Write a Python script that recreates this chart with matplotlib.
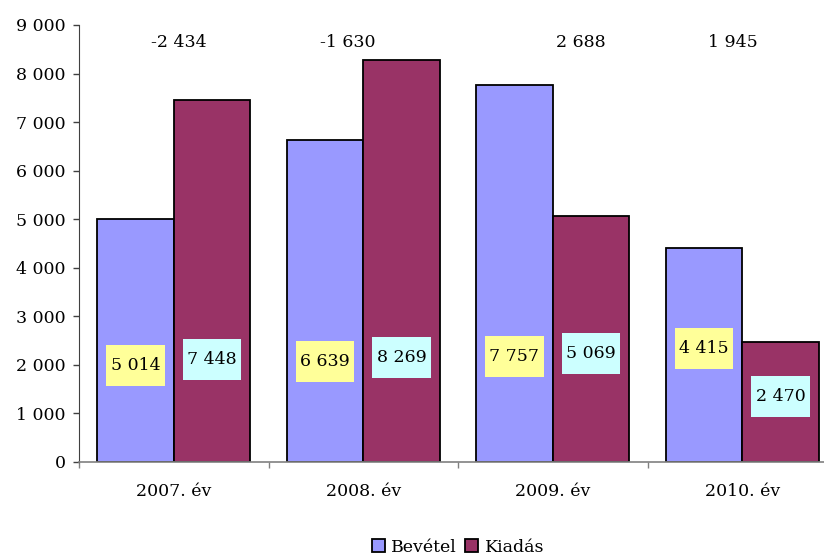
import matplotlib
matplotlib.use("Agg")
import matplotlib.pyplot as plt
from matplotlib.patches import Rectangle
import numpy as np

# Data
years = ["2007. év", "2008. év", "2009. év", "2010. év"]
bevetel = [5014, 6639, 7757, 4415]
kiadas = [7448, 8269, 5069, 2470]
egyenleg = [-2434, -1630, 2688, 1945]

# placement of the value labels (data units)
bev_label_y = [1990, 2080, 2180, 2340]
kia_label_y = [2110, 2150, 2235, 1350]
bal_label_dx = [0.028, -0.080, 0.146, -0.049]
bal_label_y = 8640

def fmt(v):
    s = f"{abs(v):,}".replace(",", " ")
    return ("-" if v < 0 else "") + s

plt.rcParams["font.family"] = ["DejaVu Serif"]
FS = 12.5

fig = plt.figure(figsize=(8.24, 5.58), dpi=100)
# the category axis runs slightly past the right edge of the canvas
ax = fig.add_axes([79 / 824, 96 / 558, 758 / 824, 437 / 558])

x = np.arange(len(years))
w = 0.405
blue = "#9999FF"
red = "#993366"

b1 = ax.bar(x - w / 2, bevetel, w, color=blue, edgecolor="black", linewidth=1.3, label="Bevétel", zorder=2)
b2 = ax.bar(x + w / 2, kiadas, w, color=red, edgecolor="black", linewidth=1.3, label="Kiadás", zorder=2)

box_w = 0.31             # label box width (category units)
box_h = 41 / 437 * 9000  # label box height (data units)

def label(xc, yc, txt, fc):
    ax.add_patch(Rectangle((xc - box_w / 2, yc - box_h / 2), box_w, box_h,
                           facecolor=fc, edgecolor="none", zorder=3))
    ax.text(xc, yc, txt, ha="center", va="center", fontsize=FS, zorder=4)

for i in range(len(years)):
    label(x[i] - w / 2, bev_label_y[i], fmt(bevetel[i]), "#FFFF99")
    label(x[i] + w / 2, kia_label_y[i], fmt(kiadas[i]), "#CCFFFF")
    ax.text(x[i] + bal_label_dx[i], bal_label_y, fmt(egyenleg[i]), ha="center", va="center",
            fontsize=FS, zorder=3)

ax.set_xlim(-0.5, len(years) - 0.5)
ax.set_ylim(0, 9000)
ax.set_yticks(np.arange(0, 9001, 1000))
ax.set_yticklabels([fmt(v) for v in range(0, 9001, 1000)], fontsize=FS)
ax.set_xticks(x)
ax.set_xticklabels(years, fontsize=FS)
ax.tick_params(axis="x", which="major", length=0, pad=15)
ax.set_xticks(np.arange(-0.5, len(years) + 0.5, 1), minor=True)
ax.tick_params(axis="x", which="minor", length=4, width=1, color="#808080", direction="out")
ax.tick_params(axis="y", length=4.5, width=1, color="#404040", direction="out", pad=5)

for s in ["top", "right"]:
    ax.spines[s].set_visible(False)
ax.spines["left"].set_color("#404040")
ax.spines["bottom"].set_color("#808080")
ax.spines["bottom"].set_linewidth(1.2)

fig.legend(handles=[b1, b2], loc="center", bbox_to_anchor=(458 / 824, 1 - 547 / 558),
           ncol=2, frameon=False, fontsize=FS, handlelength=0.75, handleheight=0.75,
           handletextpad=0.35, columnspacing=0.5)

fig.savefig("out.png", dpi=100)
